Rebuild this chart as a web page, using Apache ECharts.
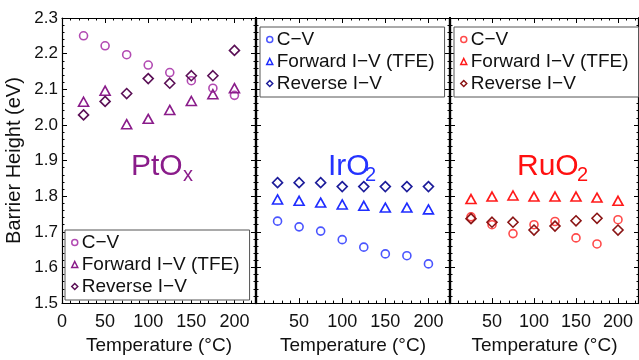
<!DOCTYPE html>
<html><head><meta charset="utf-8">
<script src="https://cdn.jsdelivr.net/npm/echarts@6/dist/echarts.min.js"></script>
<style>html,body{margin:0;padding:0;background:#fff}#c{width:639px;height:360px}</style>
</head><body><div id="c"></div>
<script>
const temps = [25, 50, 75, 100, 125, 150, 175, 200];
const ptCV  = [2.250, 2.222, 2.197, 2.168, 2.147, 2.124, 2.103, 2.083];
const ptFwd = [2.065, 2.096, 2.002, 2.017, 2.042, 2.067, 2.086, 2.103];
const ptRev = [2.028, 2.066, 2.088, 2.130, 2.117, 2.138, 2.138, 2.209];
const irCV  = [1.730, 1.714, 1.702, 1.678, 1.657, 1.638, 1.633, 1.610];
const irFwd = [1.791, 1.787, 1.782, 1.777, 1.773, 1.768, 1.768, 1.763];
const irRev = [1.838, 1.838, 1.838, 1.827, 1.827, 1.827, 1.827, 1.827];
const ruCV  = [1.742, 1.720, 1.695, 1.720, 1.729, 1.683, 1.666, 1.734];
const ruFwd = [1.792, 1.799, 1.802, 1.799, 1.799, 1.799, 1.796, 1.787];
const ruRev = [1.737, 1.727, 1.727, 1.705, 1.716, 1.731, 1.738, 1.705];
const seriesLabels = ['C\u2212V', 'Forward I\u2212V (TFE)', 'Reverse I\u2212V'];
const panelNames = ['PtO', 'IrO', 'RuO'];
const panelSubs = ['x', '2', '2'];
const xTicks = [0, 50, 100, 150, 200];
const yTicks = [1.5, 1.6, 1.7, 1.8, 1.9, 2.0, 2.1, 2.2, 2.3];

const FONT = 'Liberation Sans, Arial, sans-serif';
const panels = [
  {data: [ptCV, ptFwd, ptRev], colors: ['#b24ab2', '#8a1c8a', '#5a0f55'], title: '#8a1c8a'},
  {data: [irCV, irFwd, irRev], colors: ['#4a55ff', '#1f2dff', '#1c1c9a'], title: '#2433ff'},
  {data: [ruCV, ruFwd, ruRev], colors: ['#ff4a4a', '#ff1a1a', '#8a1414'], title: '#ff1010'}
];
const symbols = ['circle', 'triangle', 'diamond'];
const symSizes = [8, [10, 9], [10, 10]];
const gridLefts = [62, 256, 450];
const GW = 194;

const grids = gridLefts.map(l => ({left: l, width: GW, top: 18, bottom: 53, containLabel: false}));
const xAxes = [], yAxes = [], series = [], legends = [], titles = [];
const tickStyle = {show: true, inside: true, length: 5, lineStyle: {color: '#000', width: 1}};
const minorStyle = {show: true, splitNumber: 5, length: 2.5, lineStyle: {color: '#000', width: 1}};
for (let i = 0; i < 3; i++) {
  xAxes.push({type: 'value', gridIndex: i, min: 0, max: 225, interval: 50, position: 'bottom',
    axisLine: {show: true, onZero: false, lineStyle: {color: '#000', width: 1.2}},
    axisTick: tickStyle, minorTick: minorStyle, splitLine: {show: false},
    axisLabel: {show: true, margin: 10, fontSize: 18, color: '#111', fontFamily: FONT,
      showMaxLabel: false,
      formatter: v => (xTicks.indexOf(v) >= 0 && !(i > 0 && v === 0)) ? String(v) : ''},
    name: 'Temperature (\u00B0C)', nameLocation: 'middle', nameGap: 30,
    nameTextStyle: {fontSize: 19, color: '#111', fontFamily: FONT}
  });
  yAxes.push({type: 'value', gridIndex: i, min: 1.5, max: 2.3, interval: 0.1, position: 'left',
    axisLine: {show: true, onZero: false, lineStyle: {color: '#000', width: i === 0 ? 1.2 : 2.2}},
    axisTick: tickStyle, minorTick: minorStyle, splitLine: {show: false},
    axisLabel: {show: i === 0, margin: 4, fontSize: 17, color: '#111', fontFamily: FONT,
      formatter: v => { const t = yTicks.find(y => Math.abs(y - v) < 1e-6); return t !== undefined ? t.toFixed(1) : ''; }},
    name: i === 0 ? 'Barrier Height (eV)' : '', nameLocation: 'middle', nameGap: 38,
    nameTextStyle: {fontSize: 20, color: '#111', fontFamily: FONT}
  });
}
for (let i = 0; i < 3; i++) {
  xAxes.push({type: 'value', gridIndex: i, min: 0, max: 225, interval: 50, position: 'top',
    axisLine: {show: true, onZero: false, lineStyle: {color: '#000', width: 1.2}},
    axisTick: tickStyle, minorTick: minorStyle, splitLine: {show: false}, axisLabel: {show: false}});
  yAxes.push({type: 'value', gridIndex: i, min: 1.5, max: 2.3, interval: 0.1, position: 'right',
    axisLine: {show: true, onZero: false, lineStyle: {color: '#000', width: 2.2}},
    axisTick: tickStyle, minorTick: minorStyle, splitLine: {show: false}, axisLabel: {show: false}});
}
const legendPos = [{left: 65, top: 230}, {left: 260, top: 27}, {left: 454, top: 27}];
panels.forEach((p, i) => {
  const names = [];
  p.data.forEach((vals, k) => {
    const nm = 'p' + i + 's' + k;
    names.push({name: nm, icon: symbols[k],
      itemStyle: {color: 'transparent', borderColor: p.colors[k], borderWidth: 1.5}});
    series.push({name: nm, type: 'scatter', xAxisIndex: i, yAxisIndex: i,
      symbol: symbols[k], symbolSize: symSizes[k],
      itemStyle: {color: 'rgba(255,255,255,0)', borderColor: p.colors[k], borderWidth: 1.6, opacity: 1},
      data: temps.map((t, j) => [t, vals[j]])});
  });
  legends.push({orient: 'vertical', left: legendPos[i].left, top: legendPos[i].top,
    width: 300, selectedMode: false,
    padding: [3, 10, 4, 6], itemGap: 3, itemWidth: 6, itemHeight: 6,
    borderColor: '#555', borderWidth: 1, backgroundColor: '#fff',
    textStyle: {fontSize: 19, color: '#111', fontFamily: FONT, padding: [0, 0, 0, -1]},
    formatter: n => seriesLabels[+n.slice(-1)], data: names});
  titles.push({text: panelNames[i], left: [131, 328, 517][i], top: 152, padding: 0,
    textStyle: {fontSize: 30, fontWeight: 'normal', color: p.title, fontFamily: FONT}});
  titles.push({text: panelSubs[i], left: [183, 365, 577][i], top: 165, padding: 0,
    textStyle: {fontSize: 20, fontWeight: 'normal', color: p.title, fontFamily: FONT}});
});

const chart = echarts.init(document.getElementById('c'), null, {renderer: 'canvas'});
chart.setOption({
  animation: false, backgroundColor: '#fff',
  title: titles, grid: grids, xAxis: xAxes, yAxis: yAxes, legend: legends, series: series
});
</script></body></html>
